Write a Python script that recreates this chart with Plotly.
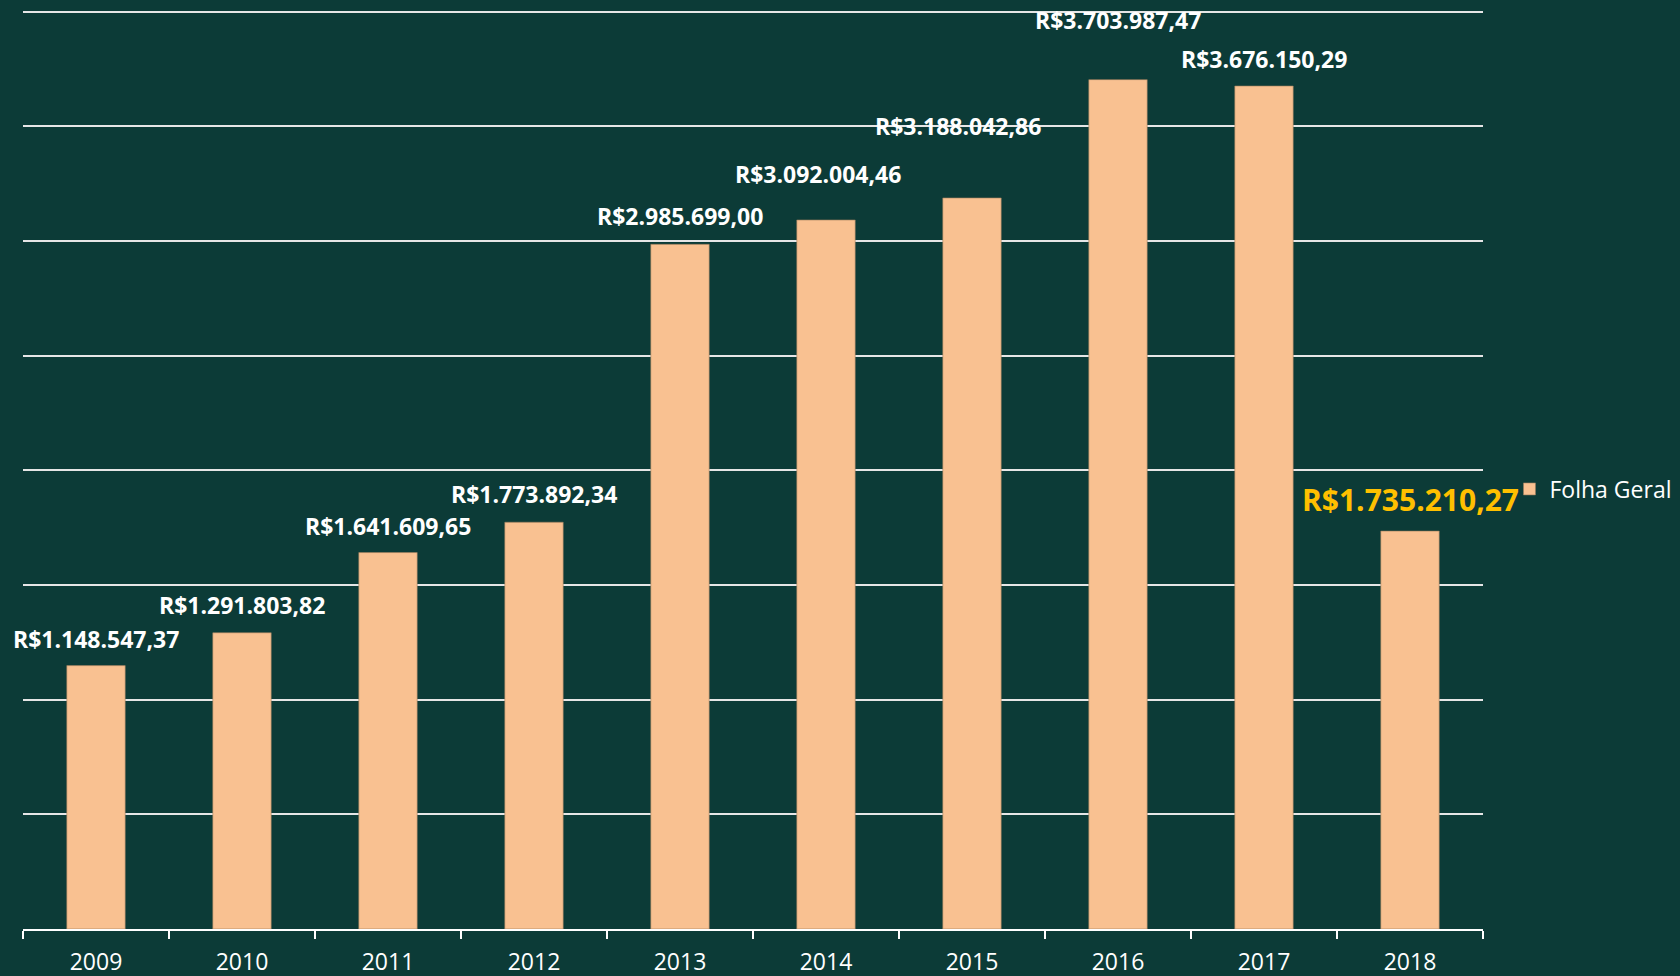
import plotly.graph_objects as go

# Folha Geral por ano
ANOS = ["2009", "2010", "2011", "2012", "2013", "2014", "2015", "2016", "2017", "2018"]
VALORES = [1148547.37, 1291803.82, 1641609.65, 1773892.34, 2985699.00,
           3092004.46, 3188042.86, 3703987.47, 3676150.29, 1735210.27]
ROTULOS = ["R$1.148.547,37", "R$1.291.803,82", "R$1.641.609,65", "R$1.773.892,34",
           "R$2.985.699,00", "R$3.092.004,46", "R$3.188.042,86", "R$3.703.987,47",
           "R$3.676.150,29", "R$1.735.210,27"]
SERIE = "Folha Geral"

BG = "#0C3B37"
BAR = "#F9C191"
FONT = "Open Sans"

# label offsets above bar tops (px), as placed in the original
Y_SHIFT = [27, 28, 27, 28, 28, 46, 72, 60, 27, 32]
X_SHIFT = [0, 0, 0, 0, 0, -8, -14, 0, 0, 0]

fig = go.Figure()
fig.add_trace(go.Bar(x=ANOS, y=VALORES, name=SERIE,
                     marker=dict(color=BAR, line=dict(color="#9C7C5C", width=0.6)),
                     showlegend=True))

# category axis: annotations are positioned by category index
for i, (val, txt) in enumerate(zip(VALORES, ROTULOS)):
    destaque = i == len(ANOS) - 1
    fig.add_annotation(
        x=i, y=val, text=f"<b>{txt}</b>", showarrow=False,
        xanchor="center", yanchor="middle",
        yshift=Y_SHIFT[i], xshift=X_SHIFT[i],
        font=dict(family=FONT, size=30 if destaque else 23,
                  color="#FFC000" if destaque else "white"),
    )

fig.update_layout(
    width=1680, height=976,
    paper_bgcolor=BG, plot_bgcolor=BG,
    margin=dict(l=23, r=197, t=9, b=47),
    bargap=0.6,
    font=dict(family=FONT, color="white", size=23),
    legend=dict(xref="container", yref="container", x=0.8985, y=0.499,
                xanchor="left", yanchor="middle",
                font=dict(family=FONT, size=23, color="white"),
                bgcolor="rgba(0,0,0,0)", itemwidth=30),
)
fig.update_xaxes(
    type="category", range=[-0.5, len(ANOS) - 0.5], automargin=False,
    showline=True, linecolor="white", linewidth=2,
    ticks="outside", tickson="boundaries", ticklen=8, tickwidth=2, tickcolor="white",
    ticklabelstandoff=11,
    tickfont=dict(family=FONT, size=23, color="white"), showgrid=False,
)
fig.update_yaxes(
    range=[0, 4012000], dtick=500000, showticklabels=False, automargin=False,
    showgrid=True, gridcolor="#E6E6E6", gridwidth=1.5, zeroline=False,
)

fig.write_html("out.html", config={"displayModeBar": False},
               post_script="document.body.style.margin='0';document.body.style.overflow='hidden';")
